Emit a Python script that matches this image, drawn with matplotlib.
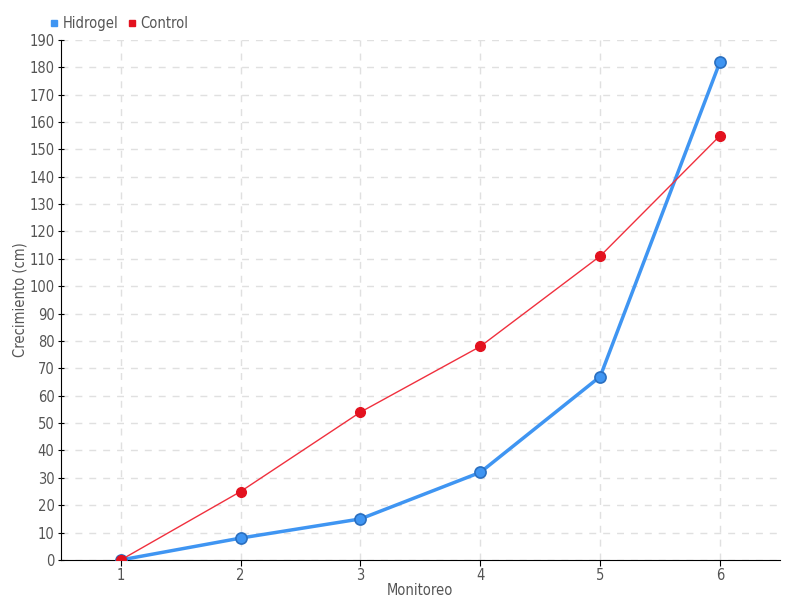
import matplotlib
matplotlib.use("Agg")
import matplotlib.pyplot as plt
from matplotlib.lines import Line2D

plt.rcParams['font.family'] = ['DejaVu Sans']
plt.rcParams['font.stretch'] = 'condensed'

x = [1, 2, 3, 4, 5, 6]
hidrogel = [0, 8, 15, 32, 67, 182]
control = [0, 25, 54, 78, 111, 155]
yticks = list(range(0, 191, 10))

fig = plt.figure(figsize=(8, 6), dpi=100)
ax = fig.add_axes([0.076, 0.0667, 0.899, 0.867])

txt = '#555555'
ax.plot(x, hidrogel, color='#3f95f2', lw=2.5, marker='o', ms=8,
        mfc='#3f95f2', mec='#2a6fc0', mew=1.2, zorder=3, label='Hidrogel')
ax.plot(x, control, color='#f0303e', lw=1, marker='o', ms=7,
        mfc='#e3121f', mec='#e3121f', zorder=4, label='Control')

ax.set_xlim(0.5, 6.5)
ax.set_ylim(0, 190)
ax.set_xticks(x)
ax.set_yticks(yticks)
ax.grid(True, color='#e0e0e0', ls=(0, (5, 5)), lw=1)
ax.set_axisbelow(True)
for s in ['top', 'right']:
    ax.spines[s].set_visible(False)
ax.spines['left'].set_color('black')
ax.spines['bottom'].set_color('black')
ax.tick_params(axis='both', colors='black', labelcolor=txt, labelsize=10.5, length=4, pad=2)
ax.tick_params(axis='y', direction='inout', length=5)
ax.set_xlabel('Monitoreo', color=txt, fontsize=10.5, labelpad=0)
ax.set_ylabel('Crecimiento (cm)', color=txt, fontsize=10.5, labelpad=1)

handles = [Line2D([], [], ls='none', marker='s', ms=5, color='#3f95f2'),
           Line2D([], [], ls='none', marker='s', ms=5, color='#e3121f')]
fig.legend(handles, ['Hidrogel', 'Control'], loc='upper left',
           bbox_to_anchor=(0.046, 0.995), ncol=2, frameon=False,
           fontsize=10.5, labelcolor=txt, handlelength=0.6, handletextpad=0.3,
           columnspacing=0.6)

fig.savefig('out.png', dpi=100)
